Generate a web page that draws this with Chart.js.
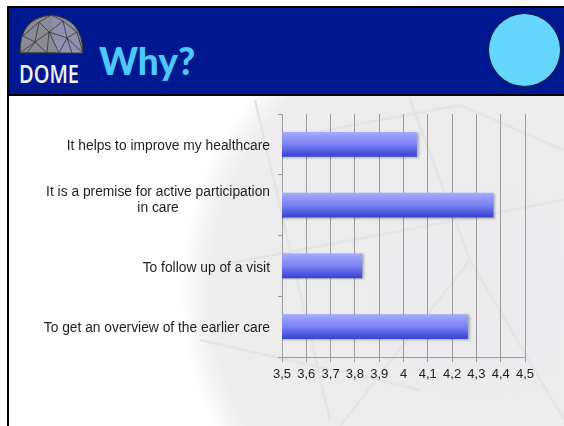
<!DOCTYPE html>
<html>
<head>
<meta charset="utf-8">
<script src="https://cdn.jsdelivr.net/npm/chart.js"></script>
<style>
  html, body { margin: 0; padding: 0; background: #fff; }
  #diapositiva { position: relative; width: 564px; height: 426px; overflow: hidden; }
  #fondo { position: absolute; left: 0; top: 0; }
  #cabecera {
    position: absolute; left: 7px; top: 6px; width: 557px; height: 86px;
    background: #00188f; border-top: 2px solid #000; border-left: 2px solid #000; border-bottom: 2px solid #000;
  }
  #borde { position: absolute; left: 7px; top: 6px; width: 2px; height: 420px; background: #000; }
  #marca {
    position: absolute; left: 19px; top: 56px; color: #f2f2f2; transform: scaleX(0.8); transform-origin: left top;
    font-family: "Open Sans", sans-serif; font-weight: 600; font-size: 25px;
  }
  #titulo {
    position: absolute; left: 99px; top: 38px; color: #4cc8ff;
    font-family: Lato, "Open Sans", sans-serif; font-weight: 900; font-size: 37px;
  }
  #circulo {
    position: absolute; left: 488px; top: 13px; width: 73px; height: 74px; border-radius: 50%;
    background: #66d6ff; border: 1px solid #0a1a40; box-sizing: border-box;
  }
  #grafico { position: absolute; left: 0; top: 0; }
</style>
</head>
<body>
<div id="diapositiva">
  <svg id="fondo" width="564" height="426">
    <defs>
      <radialGradient id="sombra" cx="480" cy="290" r="300" gradientUnits="userSpaceOnUse">
        <stop offset="0" stop-color="#ebebed"/>
        <stop offset="0.9" stop-color="#ededee"/>
        <stop offset="1" stop-color="#ffffff"/>
      </radialGradient>
    </defs>
    <rect x="0" y="0" width="564" height="426" fill="#fff"/>
    <circle cx="480" cy="290" r="300" fill="url(#sombra)"/>
    <g stroke="#e4e4e6" stroke-width="2.5" fill="none">
      <path d="M255 100 L330 420"/>
      <path d="M220 265 L564 200"/>
      <path d="M340 426 L470 260 L564 420"/>
      <path d="M300 135 L460 105 L564 150"/>
      <path d="M410 100 L470 260"/>
      <path d="M200 340 L420 390"/>
    </g>
  </svg>
  <div id="borde"></div>
  <div id="cabecera"></div>
  <svg style="position:absolute;left:17px;top:12px" width="70" height="44">
    <path d="M3 41 Q2 6 34 3 Q66 6 66 41 Z" fill="#8a8a95" stroke="#333" stroke-width="1"/>
    <path d="M34 3 Q60 8 65 41 L40 41 Z" fill="#9090b0"/>
    <g stroke="#333" stroke-width="0.8" fill="none">
      <path d="M3 41 Q2 6 34 3 Q66 6 66 41 Z"/>
      <path d="M6 24 L22 10 L34 3 L46 9 L60 20 L66 41"/>
      <path d="M6 24 L18 30 L22 10 L32 20 L46 9 L50 26 L60 20"/>
      <path d="M3 41 L18 30 L32 20 L50 26 L66 41"/>
      <path d="M18 30 L30 41 L32 20 L42 41 L50 26"/>
      <path d="M10 41 L18 30 M55 41 L50 26"/>
    </g>
  </svg>
  <div id="marca">DOME</div>
  <div id="titulo">Why?</div>
  <div id="circulo"></div>
  <canvas id="grafico" width="564" height="426"></canvas>
</div>
<script>
const categorias = [
  'It helps to improve my healthcare',
  ['It is a premise for active participation', 'in care'],
  'To follow up of a visit',
  'To get an overview of the earlier care'
];
const valores = [4.055, 4.37, 3.83, 4.265];
const etiquetasEje = ['3,5', '3,6', '3,7', '3,8', '3,9', '4', '4,1', '4,2', '4,3', '4,4', '4,5'];

const colorRejilla = '#9c9c9c';

// degradado vertical de cada barra
function degradadoBarra(context) {
  const chart = context.chart;
  const escalaY = chart.scales.y;
  const centro = escalaY ? escalaY.getPixelForValue(context.dataIndex) : NaN;
  if (!isFinite(centro)) return '#6670f0';
  const mitad = 12.5;
  const g = chart.ctx.createLinearGradient(0, centro - mitad, 0, centro + mitad);
  g.addColorStop(0, '#a6abff');
  g.addColorStop(0.5, '#7b82f2');
  g.addColorStop(1, '#3441d4');
  return g;
}

const sombraBarras = {
  id: 'sombraBarras',
  beforeDatasetsDraw: (chart) => {
    const ctx = chart.ctx;
    ctx.save();
    ctx.shadowColor = 'rgba(0,0,0,0.25)';
    ctx.shadowOffsetX = 2;
    ctx.shadowOffsetY = 1;
    ctx.shadowBlur = 2;
  },
  afterDatasetsDraw: (chart) => {
    chart.ctx.restore();
  }
};

// etiquetas de categorias, con las lineas centradas entre si
const etiquetasCategorias = {
  id: 'etiquetasCategorias',
  afterDraw: (chart) => {
    const ctx = chart.ctx;
    const escalaY = chart.scales.y;
    const derecha = 270;
    const alto = 16.5;
    ctx.save();
    ctx.font = '13.8px "Liberation Sans", Arial, sans-serif';
    ctx.fillStyle = '#1e1e1e';
    ctx.textAlign = 'center';
    ctx.textBaseline = 'middle';
    categorias.forEach((etiqueta, i) => {
      const lineas = Array.isArray(etiqueta) ? etiqueta : [etiqueta];
      const ancho = Math.max(...lineas.map(l => ctx.measureText(l).width));
      const x = derecha - ancho / 2;
      const y0 = escalaY.getPixelForValue(i) + 2 - (lineas.length - 1) * alto / 2 - (lineas.length > 1 ? 7 : 0);
      lineas.forEach((l, j) => ctx.fillText(l, x, y0 + j * alto));
    });
    ctx.restore();
  }
};

new Chart(document.getElementById('grafico'), {
  type: 'bar',
  data: {
    labels: categorias,
    datasets: [{
      data: valores,
      backgroundColor: degradadoBarra,
      borderWidth: 0,
      categoryPercentage: 1,
      barPercentage: 0.41
    }]
  },
  options: {
    indexAxis: 'y',
    responsive: false,
    animation: false,
    layout: { padding: { top: 114, right: 39, bottom: 29, left: 0 } },
    plugins: {
      legend: { display: false },
      tooltip: { enabled: false }
    },
    scales: {
      x: {
        min: 3.5,
        max: 4.5,
        afterFit: (escala) => { escala.height = 40; },
        grid: { color: colorRejilla, tickLength: 5 },
        border: { color: colorRejilla },
        ticks: {
          stepSize: 0.1,
          padding: 5,
          color: '#1e1e1e',
          font: { family: '"Liberation Sans", Arial, sans-serif', size: 13 },
          callback: (valor, indice) => etiquetasEje[indice]
        }
      },
      y: {
        afterFit: (escala) => { escala.width = 282; },
        grid: { drawOnChartArea: false, color: colorRejilla, tickLength: 4, offset: true },
        border: { color: colorRejilla },
        ticks: { display: false }
      }
    }
  },
  plugins: [sombraBarras, etiquetasCategorias]
});
</script>
</body>
</html>
